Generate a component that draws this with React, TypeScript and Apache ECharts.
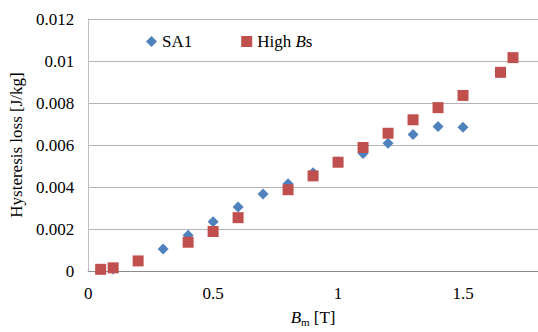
import React, { useEffect, useRef } from "react";
import * as echarts from "echarts";

const sa1B = [0.1, 0.3, 0.4, 0.5, 0.6, 0.7, 0.8, 0.9, 1.0, 1.1, 1.2, 1.3, 1.4, 1.5];
const sa1Loss = [0.0001, 0.00105, 0.0017, 0.00235, 0.00305, 0.00367, 0.00415, 0.00468, 0.0052, 0.0056, 0.00608, 0.0065, 0.00688, 0.00685];
const highB = [0.05, 0.1, 0.2, 0.4, 0.5, 0.6, 0.8, 0.9, 1.0, 1.1, 1.2, 1.3, 1.4, 1.5, 1.65, 1.7];
const highLoss = [0.00008, 0.00015, 0.00048, 0.00137, 0.00188, 0.00254, 0.00387, 0.00453, 0.00518, 0.00588, 0.00656, 0.0072, 0.00778, 0.00836, 0.00946, 0.01016];

const FONT = "Liberation Serif";

export default function App() {
  const ref = useRef<HTMLDivElement>(null);
  useEffect(() => {
    const chart = echarts.init(ref.current!, null, { renderer: "svg" });
    chart.setOption({
      animation: false,
      textStyle: { fontFamily: FONT, fontSize: 17, color: "#000" },
      grid: { left: 85, top: 19, right: -2, bottom: 57, containLabel: false },
      legend: {
        top: 28,
        left: 141,
        padding: 5,
        itemGap: 49,
        itemWidth: 11,
        itemHeight: 11,
        data: [
          { name: "SA1", icon: "diamond" },
          { name: "High Bs", icon: "rect" },
        ],
        formatter: (n: string) => (n === "High Bs" ? "{n|High }{i|B}{n|s}" : "{n|" + n + "}"),
        textStyle: {
          fontFamily: FONT,
          fontSize: 17,
          color: "#000",
          rich: {
            n: { fontFamily: FONT, fontSize: 17, color: "#000" },
            i: { fontFamily: FONT, fontSize: 17, color: "#000", fontStyle: "italic" },
          },
        },
      },
      xAxis: {
        type: "value",
        min: 0,
        max: 1.8,
        interval: 0.5,
        name: "{i|B}{s|m}{n| [T]}",
        nameLocation: "middle",
        nameGap: 36,
        nameTextStyle: {
          fontFamily: FONT,
          rich: {
            i: { fontFamily: FONT, fontSize: 17, color: "#000", fontStyle: "italic" },
            s: { fontFamily: FONT, fontSize: 11, color: "#000", padding: [9, 0, 0, 0] },
            n: { fontFamily: FONT, fontSize: 17, color: "#000" },
          },
        },
        axisLine: { show: true, lineStyle: { color: "#8c8c8c", width: 1 } },
        axisTick: { show: false },
        splitLine: { show: false },
        axisLabel: {
          fontFamily: FONT,
          fontSize: 17,
          color: "#000",
          margin: 14,
          showMaxLabel: false,
          formatter: (v: number) => String(v),
        },
      },
      yAxis: {
        type: "value",
        min: 0,
        max: 0.012,
        interval: 0.002,
        name: "Hysteresis loss [J/kg]",
        nameLocation: "middle",
        nameGap: 60,
        nameTextStyle: { fontFamily: FONT, fontSize: 17, color: "#000" },
        axisLine: { show: true, lineStyle: { color: "#bfbfbf", width: 1 } },
        axisTick: { show: false },
        splitLine: { show: true, lineStyle: { color: "#b4b4b4", width: 1 } },
        axisLabel: {
          fontFamily: FONT,
          fontSize: 17,
          color: "#000",
          margin: 14,
          formatter: (v: number) => (v === 0 ? "0" : String(parseFloat(v.toFixed(3)))),
        },
      },
      series: [
        {
          name: "SA1",
          type: "scatter",
          symbol: "diamond",
          symbolSize: 11,
          itemStyle: { color: "#4F81BD", opacity: 1 },
          data: sa1B.map((b, i) => [b, sa1Loss[i]]),
          z: 2,
        },
        {
          name: "High Bs",
          type: "scatter",
          symbol: "rect",
          symbolSize: 11,
          itemStyle: { color: "#C0504D", opacity: 1 },
          data: highB.map((b, i) => [b, highLoss[i]]),
          z: 3,
        },
      ],
    });
    return () => chart.dispose();
  }, []);
  return <div ref={ref} style={{ width: 538, height: 332, position: "absolute", left: 0, top: 0, background: "#fff" }} />;
}
